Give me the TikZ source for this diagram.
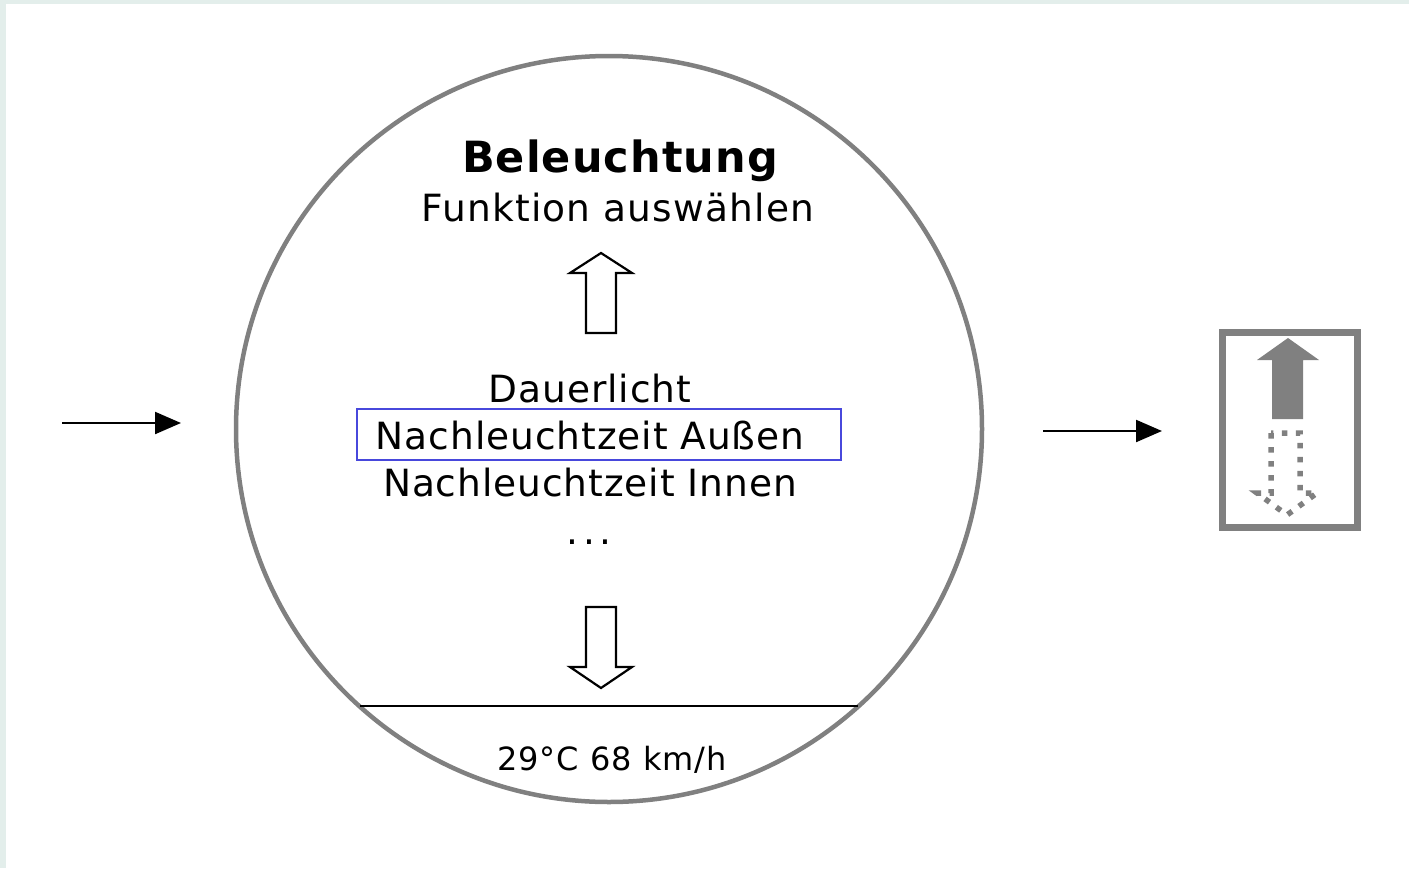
\documentclass[tikz,border=0pt]{standalone}
\usepackage{fontspec}
\setmainfont[LetterSpace=2.5]{DejaVu Sans}
\usetikzlibrary{arrows.meta}
\definecolor{bgc}{HTML}{E3EEEB}
\definecolor{gr}{HTML}{808080}
\definecolor{selblue}{HTML}{4848DC}
\begin{document}
\begin{tikzpicture}[x=1pt,y=-1pt,
  txt/.style={anchor=base,inner sep=0pt,font=\fontsize{37.5}{44}\selectfont},
  flow/.style={line width=2.2pt,-{Triangle[length=26pt,width=22pt]}},
  blockarrow/.style={draw=black,line width=2.2pt,fill=white,line join=miter}]
\fill[bgc] (0,0) rectangle (1409,868);
\fill[white] (6,4) rectangle (1409,868);
\useasboundingbox (0,0) rectangle (1409,868);
% display circle
\node[circle,draw=gr,line width=4.5pt,minimum size=746pt,inner sep=0pt] (disp) at (609,429) {};
\coordinate (chL) at (360,706);
\coordinate (chR) at (858,706);
\draw[line width=2pt] (chL) -- (chR);
% texts
\node[txt,font=\bfseries\fontsize{43}{50}\selectfont] (title) at (620,172) {Beleuchtung};
\node[txt,font=\fontsize{37.5}{44}\selectfont\addfontfeature{LetterSpace=3.2}] (sub) at (618,221) {Funktion auswählen};
\node[txt] (o1) at (590,402) {Dauerlicht};
\node[draw=selblue,line width=2pt,minimum width=484pt,minimum height=51pt,inner sep=0pt] (sel) at (598.5,434.5) {};
\node[txt] (o2) at (590,449) {Nachleuchtzeit Außen};
\node[txt] (o3) at (590,496) {Nachleuchtzeit Innen};
\node[txt,font=\fontsize{37.5}{44}\selectfont\addfontfeature{LetterSpace=12}] (o4) at (589,544) {...};
\node[txt,font=\fontsize{32}{38}\selectfont\addfontfeature{LetterSpace=3}] (status) at (612,770) {29°C 68 km/h};
% block arrows inside circle
\draw[blockarrow] (586,333) -- (586,273) -- (570,273) -- (601,253) -- (632,273) -- (616,273) -- (616,333) -- cycle;
\draw[blockarrow] (586,607) -- (586,667) -- (570,667) -- (601,688) -- (632,667) -- (616,667) -- (616,607) -- cycle;
% side arrows
\coordinate (inL) at (62,423);
\coordinate (inR) at (181,423);
\draw[flow] (inL) -- (inR);
\coordinate (outL) at (1043,431);
\coordinate (outR) at (1162,431);
\draw[flow] (outL) -- (outR);
% right box
\node[draw=gr,line width=7pt,minimum width=135pt,minimum height=195pt,inner sep=0pt] (nav) at (1289.5,429.5) {};
\fill[gr] (1272,419) -- (1272,360) -- (1257,360) -- (1288,338) -- (1319,360) -- (1303,360) -- (1303,419) -- cycle;
\draw[gr,line width=5.5pt,dash pattern=on 5.5pt off 8.5pt] (1271,433) -- (1271,493) -- (1257,493) -- (1287,515) -- (1317,493) -- (1300,493) -- (1300,433) -- cycle;
\end{tikzpicture}
\end{document}
